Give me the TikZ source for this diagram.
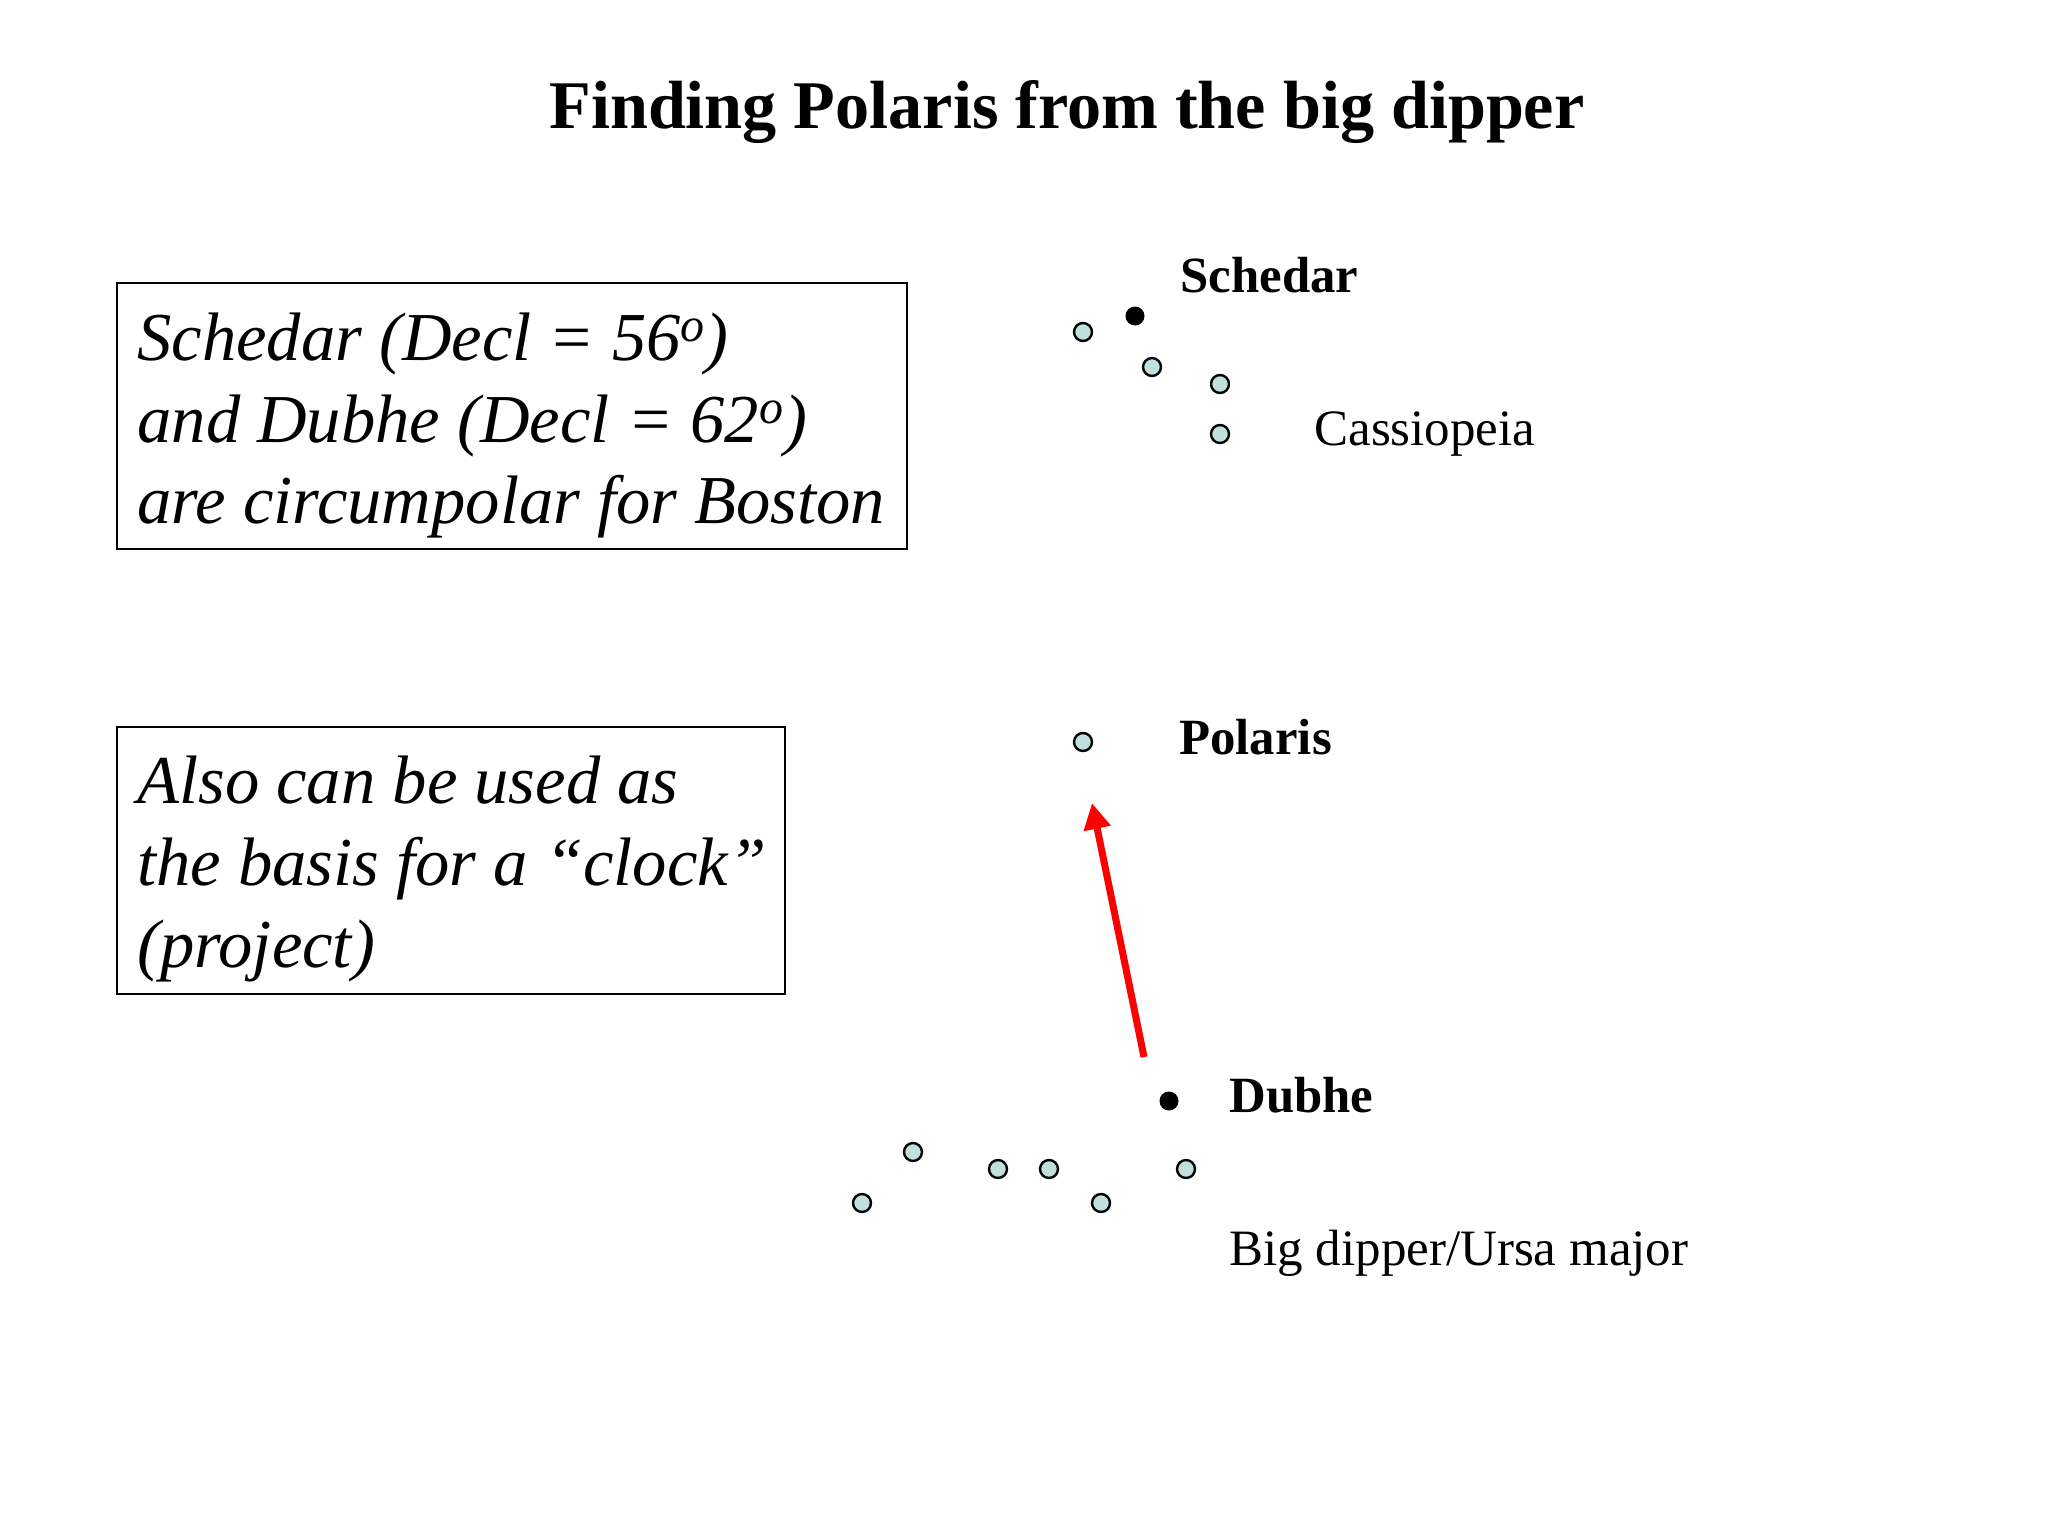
\documentclass[tikz,border=0pt]{standalone}
\usepackage{fontspec}
\setmainfont{Liberation Serif}
\usetikzlibrary{arrows.meta}
\definecolor{starfill}{RGB}{192,224,224}
\definecolor{arrowred}{RGB}{255,0,0}
\tikzset{
  openstar/.style={circle, draw=black, line width=1.2pt, fill=starfill, minimum size=9pt, inner sep=0pt},
  fullstar/.style={circle, fill=black, minimum size=9.5pt, inner sep=0pt},
  infobox/.style={draw=black, line width=1pt, anchor=north west, inner sep=0pt},
  boxtext/.style={anchor=base west, inner sep=0pt, font=\fontsize{34.3}{41}\selectfont\itshape},
  boldlabel/.style={anchor=base west, inner sep=0pt, font=\fontsize{25.4}{30}\selectfont\bfseries},
  plainlabel/.style={anchor=base west, inner sep=0pt, font=\fontsize{25.5}{30}\selectfont},
  titlestyle/.style={anchor=base, inner sep=0pt, font=\fontsize{34.1}{40}\selectfont\bfseries},
  pointer/.style={draw=arrowred, line width=3.5pt, -{Triangle[width=13pt,length=13pt]}}
}
\begin{document}
\begin{tikzpicture}[x=0.5pt, y=-0.5pt]
\useasboundingbox[fill=white] (0,0) rectangle (2048,1536);

% title
\node[titlestyle] (title) at (1067,128) {Finding Polaris from the big dipper};

% info box 1
\node[infobox, minimum width=395pt, minimum height=133pt] (box1) at (116,282) {};
\node[boxtext] (b1a) at (137,360) {Schedar (Decl = 56\textsuperscript{o})};
\node[boxtext] (b1b) at (137,442) {and Dubhe (Decl = 62\textsuperscript{o})};
\node[boxtext] (b1c) at (137,523) {are circumpolar for Boston};

% info box 2
\node[infobox, minimum width=334pt, minimum height=133.5pt] (box2) at (116,726) {};
\node[boxtext] (b2a) at (137,803) {Also can be used as};
\node[boxtext] (b2b) at (137,885) {the basis for a “clock”};
\node[boxtext] (b2c) at (137,967) {(project)};

% Cassiopeia
\node[openstar] (ca1) at (1083,332) {};
\node[fullstar] (schedar) at (1135,316) {};
\node[openstar] (ca3) at (1152,367) {};
\node[openstar] (ca4) at (1220,384) {};
\node[openstar] (ca5) at (1220,434) {};
\node[boldlabel] (schedarlabel) at (1180,292) {Schedar};
\node[plainlabel] (cassiolabel) at (1314,445) {Cassiopeia};

% Polaris
\node[openstar] (polaris) at (1083,742) {};
\node[boldlabel] (polarislabel) at (1179,754) {Polaris};

% Big dipper
\node[fullstar] (dubhe) at (1169,1101) {};
\node[openstar] (ud1) at (913,1152) {};
\node[openstar] (ud2) at (862,1203) {};
\node[openstar] (ud3) at (998,1169) {};
\node[openstar] (ud4) at (1049,1169) {};
\node[openstar] (ud5) at (1101,1203) {};
\node[openstar] (ud6) at (1186,1169) {};
\node[boldlabel] (dubhelabel) at (1229,1112) {Dubhe};
\node[plainlabel] (dipperlabel) at (1229,1265) {Big dipper/Ursa major};

% pointer arrow
\coordinate (arrowtail) at (1144,1057);
\coordinate (arrowtip) at (1092,803);
\draw[pointer] (arrowtail) -- (arrowtip);
\end{tikzpicture}
\end{document}
